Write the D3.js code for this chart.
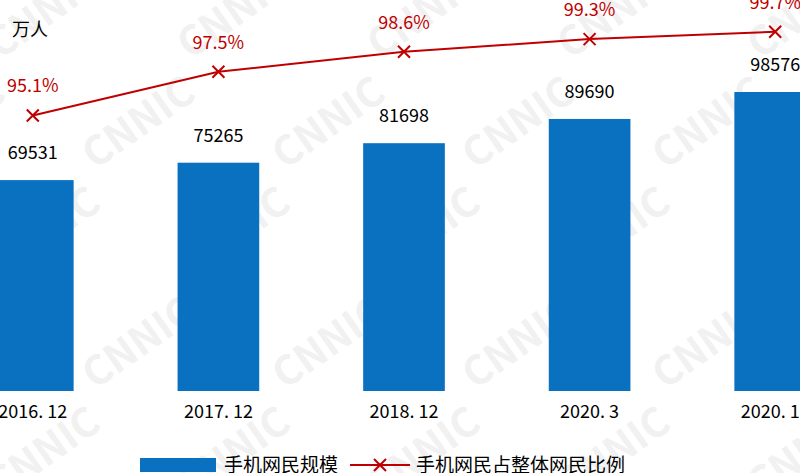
<!DOCTYPE html>
<html><head><meta charset="UTF-8">
<script src="https://d3js.org/d3.v7.min.js"></script>
<style>body{margin:0;background:#fff}text{font-family:"Noto Sans CJK SC",Arial,sans-serif}</style>
</head><body>
<svg width="800" height="473"></svg>
<script>
const categories = ["2016. 12", "2017. 12", "2018. 12", "2020. 3", "2020. 12"];
const users = [69531, 75265, 81698, 89690, 98576];
const ratio = [95.1, 97.5, 98.6, 99.3, 99.7];

const svg = d3.select("svg");
const BLUE = "#0a70c0", RED = "#c00000";

// watermark
const wm = svg.append("g").attr("fill", "#f1f1f1").attr("font-size", 40).attr("font-weight", "bold");
for (let r = -1; r < 6; r++) for (let c = -1; c < 6; c++) {
  wm.append("text").attr("transform", `translate(${c*190 + (r%2)*95},${r*110+60}) rotate(-35)`)
    .attr("font-family", "Arial").text("CNNIC");
}

const x = d3.scaleBand().domain(categories).range([-60, 868]).paddingInner(0.56).paddingOuter(0.28);
const y = d3.scaleLinear().domain([0, 98576]).range([391, 92]);
const y2 = d3.scaleLinear().domain([80, 101.45]).range([390, 0]);
const cx = d => x(d) + x.bandwidth() / 2;

svg.selectAll("rect.bar").data(users).join("rect")
  .attr("x", (d, i) => x(categories[i])).attr("width", x.bandwidth())
  .attr("y", d => y(d)).attr("height", d => y(0) - y(d)).attr("fill", BLUE);

svg.selectAll("text.v").data(users).join("text")
  .attr("x", (d, i) => cx(categories[i])).attr("y", d => y(d) - 21)
  .attr("text-anchor", "middle").attr("font-size", 18).attr("font-family", "Arial").text(d => d);

const xAxis = svg.append("g").attr("transform", "translate(0,391)")
  .call(d3.axisBottom(x).tickSize(0).tickPadding(14));
xAxis.select(".domain").remove();
xAxis.selectAll("text").attr("font-size", 18).attr("font-family", "Arial").attr("fill", "#000");

const line = d3.line().x((d, i) => cx(categories[i])).y(d => y2(d));
svg.append("path").datum(ratio).attr("d", line).attr("fill", "none").attr("stroke", RED).attr("stroke-width", 2);
svg.selectAll("path.mk").data(ratio).join("path")
  .attr("transform", (d, i) => `translate(${cx(categories[i])},${y2(d)})`)
  .attr("d", "M-6,-6L6,6M-6,6L6,-6").attr("stroke", RED).attr("stroke-width", 2);
svg.selectAll("text.p").data(ratio).join("text")
  .attr("x", (d, i) => cx(categories[i])).attr("y", d => y2(d) - 23)
  .attr("text-anchor", "middle").attr("font-size", 18).attr("font-family", "Arial")
  .attr("fill", RED).text(d => d.toFixed(1) + "%");

svg.append("text").attr("x", 12).attr("y", 36).attr("font-size", 18).text("万人");

// legend
const lg = svg.append("g").attr("transform", "translate(0,464)");
lg.append("rect").attr("x", 140).attr("y", -6).attr("width", 76).attr("height", 14).attr("fill", BLUE);
lg.append("text").attr("x", 224).attr("y", 8).attr("font-size", 19).text("手机网民规模");
lg.append("line").attr("x1", 350).attr("x2", 410).attr("y1", 1).attr("y2", 1).attr("stroke", RED).attr("stroke-width", 2);
lg.append("path").attr("transform", "translate(380,1)").attr("d", "M-6,-6L6,6M-6,6L6,-6").attr("stroke", RED).attr("stroke-width", 2);
lg.append("text").attr("x", 416).attr("y", 8).attr("font-size", 19).text("手机网民占整体网民比例");
</script>
</body></html>
